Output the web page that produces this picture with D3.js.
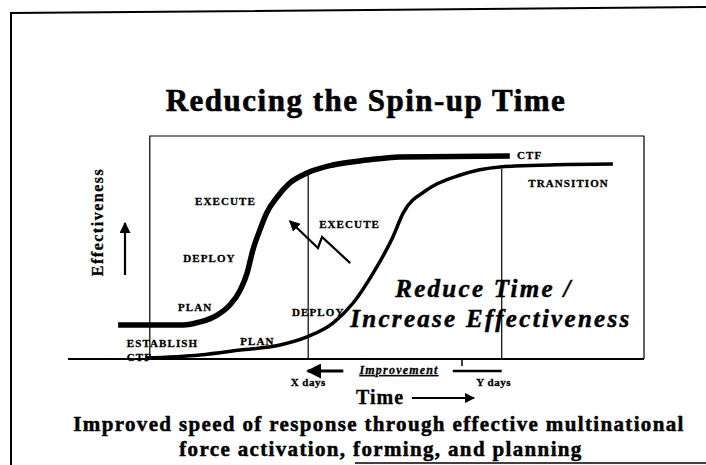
<!DOCTYPE html>
<html>
<head>
<meta charset="utf-8">
<script src="https://cdn.jsdelivr.net/npm/d3@7"></script>
<style>
  body { margin: 0; background: #fff; }
  svg { display: block; }
  text { font-family: "Liberation Serif", "Times New Roman", serif; font-weight: bold; fill: #000; stroke: #000; stroke-width: 0.3px; }
</style>
</head>
<body>
<script>
// time runs 0..100 along the axis, effectiveness 0..100 up the box
let fastTime = [8.7, 20.0, 22.9, 25.9, 28.1, 29.9, 31.1, 32.1, 33.3, 34.5, 36.3, 38.5, 41.5, 46.0, 51.9, 57.6, 76.7];
let fastEff  = [15.2, 15.2, 16.6, 19.7, 24.2, 30.9, 38.6, 48.9, 57.8, 65.5, 72.6, 78.9, 83.4, 87.0, 89.2, 90.6, 91.0];

let slowTime = [13.4, 22.9, 29.9, 36.8, 41.5, 46.0, 49.5, 53.0, 56.4, 58.2, 62.3, 68.1, 75.0, 83.7, 94.6];
let slowEff  = [0.4, 1.8, 4.0, 6.3, 9.9, 16.1, 25.1, 38.6, 54.7, 65.5, 75.8, 82.5, 86.1, 87.0, 87.4];

let boxStart = 14.2;          // left edge of the box (establish)
let xDaysTime = 41.7;         // fast curve reaches CTF
let yDaysTime = 75.3;         // slow curve reaches CTF
let improvementTick = 68.4;

let phaseLabels = ["CTF", "TRANSITION", "EXECUTE", "DEPLOY", "PLAN", "ESTABLISH", "CTF", "PLAN", "DEPLOY", "EXECUTE"];
let labelTime   = [77.95, 79.9, 22.05, 20.0, 19.1, 10.2, 10.2, 29.9, 38.9, 43.6];
let labelEff    = [89.7, 77.1, 69.1, 43.5, 21.5, 5.4, -0.9, 6.3, 19.3, 58.7];

let width = 706, height = 465;
let svg = d3.select("body").append("svg")
    .attr("width", width)
    .attr("height", height);

let x = d3.scaleLinear().domain([0, 100]).range([68, 644]);
let y = d3.scaleLinear().domain([0, 100]).range([359, 136]);

let defs = svg.append("defs");
defs.append("marker")
    .attr("id", "head")
    .attr("viewBox", "0 0 10 10")
    .attr("refX", 9).attr("refY", 5)
    .attr("markerWidth", 5).attr("markerHeight", 5)
    .attr("markerUnits", "strokeWidth")
    .attr("orient", "auto")
    .append("path").attr("d", "M0,0 L10,5 L0,10 Z").attr("fill", "#000");

// outer slide frame (scanned, a bit tilted)
svg.append("path")
    .attr("d", "M11,465 L11,13 L706,7")
    .attr("fill", "none").attr("stroke", "#000").attr("stroke-width", 2);
svg.append("line")
    .attr("x1", 355).attr("x2", 706).attr("y1", 463).attr("y2", 463)
    .attr("stroke", "#000").attr("stroke-width", 1.5);

svg.append("text")
    .attr("x", 366).attr("y", 111)
    .attr("text-anchor", "middle")
    .style("font-size", "31px")
    .style("letter-spacing", "1.5px")
    .style("stroke-width", "0.6px")
    .text("Reducing the Spin-up Time");

// box
svg.append("path")
    .attr("d", `M${x(boxStart)},${y(0)} L${x(boxStart)},${y(100)} L${x(100)},${y(100)} L${x(100)},${y(0)}`)
    .attr("fill", "none").attr("stroke", "#000").attr("stroke-width", 1.2);

// time axis
svg.append("line")
    .attr("x1", x(0)).attr("x2", x(100))
    .attr("y1", y(0)).attr("y2", y(0))
    .attr("stroke", "#000").attr("stroke-width", 2);

let fast = fastTime.map((t, i) => [t, fastEff[i]]);
let slow = slowTime.map((t, i) => [t, slowEff[i]]);
let line = d3.line().x(d => x(d[0])).y(d => y(d[1])).curve(d3.curveMonotoneX);

// vertical markers from the curves down to the axis
let ctfLevel = (pts, t) => {
    for (let i = 1; i < pts.length; i++) {
        if (pts[i][0] >= t) {
            let a = pts[i - 1], b = pts[i];
            return a[1] + (b[1] - a[1]) * (t - a[0]) / (b[0] - a[0]);
        }
    }
    return pts[pts.length - 1][1];
};
[[xDaysTime, ctfLevel(fast, xDaysTime)], [yDaysTime, ctfLevel(slow, yDaysTime)]].forEach(d => {
    svg.append("line")
        .attr("x1", x(d[0])).attr("x2", x(d[0]))
        .attr("y1", y(d[1]) + 2).attr("y2", y(0))
        .attr("stroke", "#000").attr("stroke-width", 1.2);
});

svg.append("path").datum(slow)
    .attr("d", line)
    .attr("fill", "none").attr("stroke", "#000").attr("stroke-width", 3.5);
svg.append("path").datum(fast)
    .attr("d", line)
    .attr("fill", "none").attr("stroke", "#000").attr("stroke-width", 5.5);

// phase labels
phaseLabels.forEach((s, i) => {
    svg.append("text")
        .attr("x", x(labelTime[i])).attr("y", y(labelEff[i]))
        .style("font-size", "11px")
        .style("letter-spacing", "1.1px")
        .text(s);
});

// lightning arrow pointing back to the faster curve
let bolt = [[49.0, 43.0], [44.1, 54.7], [43.4, 49.8], [38.5, 61.9]];
svg.append("path").datum(bolt)
    .attr("d", d3.line().x(d => x(d[0])).y(d => y(d[1])))
    .attr("fill", "none").attr("stroke", "#000").attr("stroke-width", 2.2)
    .attr("marker-end", "url(#head)");

let msg = svg.append("text")
    .style("font-size", "25px")
    .style("font-style", "italic")
    .style("stroke-width", "0.5px")
    .style("letter-spacing", "2.3px");
msg.append("tspan").attr("x", x(56.8)).attr("y", y(27.8)).text("Reduce Time /");
msg.append("tspan").attr("x", x(49.0)).attr("y", y(14.3)).text("Increase Effectiveness");

// effectiveness label and arrow
svg.append("text")
    .attr("transform", "translate(103,222) rotate(-90)")
    .attr("text-anchor", "middle")
    .style("font-size", "16px")
    .style("letter-spacing", "1.5px")
    .text("Effectiveness");
svg.append("line")
    .attr("x1", 125).attr("x2", 125).attr("y1", 275).attr("y2", 223)
    .attr("stroke", "#000").attr("stroke-width", 2.2)
    .attr("marker-end", "url(#head)");

// improvement annotation under the axis
let axisY = y(0);
svg.append("line")
    .attr("x1", x(improvementTick)).attr("x2", x(improvementTick))
    .attr("y1", axisY).attr("y2", axisY + 7)
    .attr("stroke", "#000").attr("stroke-width", 1.5);
svg.append("line")
    .attr("x1", x(47.8)).attr("x2", x(41.6))
    .attr("y1", axisY + 12).attr("y2", axisY + 12)
    .attr("stroke", "#000").attr("stroke-width", 3)
    .attr("marker-end", "url(#head)");
svg.append("line")
    .attr("x1", x(66.8)).attr("x2", x(yDaysTime))
    .attr("y1", axisY + 12).attr("y2", axisY + 12)
    .attr("stroke", "#000").attr("stroke-width", 2.5);
svg.append("text")
    .attr("x", x(50.6)).attr("y", axisY + 15)
    .style("font-size", "12px")
    .style("font-style", "italic")
    .style("letter-spacing", "1.2px")
    .style("text-decoration", "underline")
    .text("Improvement");

svg.append("text")
    .attr("x", x(xDaysTime)).attr("y", axisY + 27)
    .attr("text-anchor", "middle")
    .style("font-size", "11px")
    .style("letter-spacing", "0.5px")
    .text("X days");
svg.append("text")
    .attr("x", x(73.9)).attr("y", axisY + 27)
    .attr("text-anchor", "middle")
    .style("font-size", "11px")
    .style("letter-spacing", "0.5px")
    .text("Y days");

svg.append("text")
    .attr("x", x(50.0)).attr("y", axisY + 45)
    .style("font-size", "20px")
    .style("letter-spacing", "1px")
    .text("Time");
svg.append("line")
    .attr("x1", x(59.7)).attr("x2", x(70.5))
    .attr("y1", axisY + 39).attr("y2", axisY + 39)
    .attr("stroke", "#000").attr("stroke-width", 2)
    .attr("marker-end", "url(#head)");

// caption
let cap = svg.append("text")
    .attr("text-anchor", "middle")
    .style("font-size", "21px")
    .style("stroke-width", "0.5px")
    .style("letter-spacing", "1.35px");
cap.append("tspan").attr("x", 379).attr("y", 431)
    .text("Improved speed of response through effective multinational");
cap.append("tspan").attr("x", 381).attr("y", 456)
    .text("force activation, forming, and planning");
</script>
</body>
</html>
